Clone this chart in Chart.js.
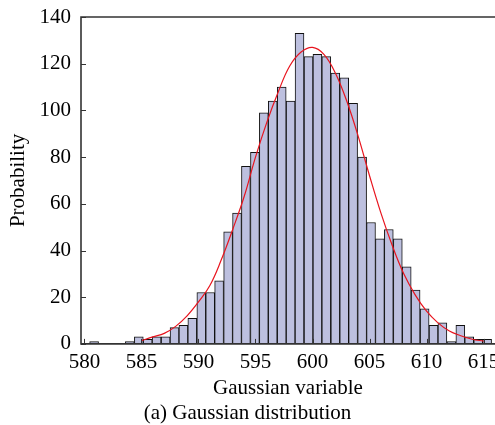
<!DOCTYPE html>
<html>
<head>
<meta charset="utf-8">
<script src="https://cdn.jsdelivr.net/npm/chart.js@4"></script>
<style>
  html, body { margin: 0; padding: 0; background: #fff; }
  #wrap { width: 495px; height: 425px; }
</style>
</head>
<body>
<div id="wrap"><canvas id="histChart"></canvas></div>
<script>
    'use strict';

    // histogram bins (centres) and counts
    var binCenters = [580.85, 581.63, 582.42, 583.20, 583.98, 584.77, 585.55, 586.33, 587.12, 587.90,
        588.68, 589.46, 590.25, 591.03, 591.81, 592.60, 593.38, 594.16, 594.95, 595.73,
        596.51, 597.30, 598.08, 598.86, 599.65, 600.43, 601.21, 602.00, 602.78, 603.56,
        604.35, 605.13, 605.91, 606.69, 607.48, 608.26, 609.04, 609.83, 610.61, 611.39,
        612.18, 612.96, 613.74, 614.53, 615.31];
    var binCounts = [1, 0, 0, 0, 1, 3, 2, 3, 3, 7,
        8, 11, 22, 22, 27, 48, 56, 76, 82, 99,
        104, 110, 104, 133, 123, 124, 123, 116, 114, 103,
        80, 52, 45, 49, 45, 33, 23, 15, 8, 9,
        1, 8, 3, 2, 2];

    // fitted curve
    var fitX = [585, 586, 587, 588, 589, 590, 591, 592, 593, 594,
        595, 596, 597, 598, 599, 600, 601, 602, 603, 604,
        605, 606, 607, 608, 609, 610, 611, 612, 613, 614, 615];
    var fitY = [1.4, 3, 4.5, 7.5, 12, 18, 25, 36, 49, 63,
        80, 95, 108, 119, 125, 127, 124, 116, 104, 89,
        72, 56, 42, 30, 21, 14, 9, 5.5, 3.5, 2, 1.2];

    var xTicks = [580, 585, 590, 595, 600, 605, 610, 615];
    var yTicks = [0, 20, 40, 60, 80, 100, 120, 140];

    var serif = "'Liberation Serif', 'Times New Roman', serif";

    var barData = binCenters.map(function (x, i) { return {x: x, y: binCounts[i]}; });
    var fitData = fitX.map(function (x, i) { return {x: x, y: fitY[i]}; });

    // axis lines (left, top, bottom) plus inward tick marks
    var framePlugin = {
        id: 'frame',
        afterDraw: function (chart) {
            var ctx = chart.ctx;
            var a = chart.chartArea;
            var xs = chart.scales.x, ys = chart.scales.y;
            ctx.save();
            ctx.strokeStyle = '#333';
            ctx.lineWidth = 1.6;
            ctx.beginPath();
            ctx.moveTo(chart.width, a.top);
            ctx.lineTo(a.left, a.top);
            ctx.lineTo(a.left, a.bottom);
            ctx.lineTo(chart.width, a.bottom);
            ctx.stroke();
            ctx.lineWidth = 1;
            ctx.beginPath();
            xTicks.forEach(function (v) {
                var px = Math.round(xs.getPixelForValue(v)) + 0.5;
                ctx.moveTo(px, a.bottom);
                ctx.lineTo(px, a.bottom - 5);
            });
            yTicks.forEach(function (v) {
                var py = Math.round(ys.getPixelForValue(v)) + 0.5;
                ctx.moveTo(a.left, py);
                ctx.lineTo(a.left + 5, py);
            });
            ctx.stroke();
            ctx.restore();
        }
    };

    var ctx = document.getElementById('histChart').getContext('2d');
    new Chart(ctx, {
        data: {
            datasets: [
                {
                    type: 'line',
                    label: 'Fit',
                    data: fitData,
                    borderColor: '#e8141e',
                    borderWidth: 1.2,
                    pointRadius: 0,
                    tension: 0.4,
                    fill: false,
                    order: 0
                },
                {
                    type: 'bar',
                    label: 'Histogram',
                    data: barData,
                    backgroundColor: '#bdc0df',
                    borderColor: '#111',
                    borderWidth: 1,
                    barPercentage: 1,
                    categoryPercentage: 1,
                    order: 1
                }
            ]
        },
        options: {
            responsive: true,
            maintainAspectRatio: false,
            animation: false,
            layout: {padding: {left: 0, right: 0, top: 17, bottom: 0}},
            plugins: {
                legend: {display: false},
                tooltip: {enabled: false},
                title: {
                    display: true,
                    position: 'bottom',
                    text: '(a) Gaussian distribution',
                    color: '#000',
                    font: {family: serif, size: 21, weight: 'normal', lineHeight: 1.1},
                    padding: {top: 2, bottom: 0}
                }
            },
            scales: {
                x: {
                    type: 'linear',
                    offset: false,
                    min: 579.7,
                    max: 616,
                    afterBuildTicks: function (scale) {
                        scale.ticks = xTicks.map(function (v) { return {value: v}; });
                    },
                    afterFit: function (scale) {
                        scale.height = 56;
                        scale.paddingLeft = 0;
                        scale.paddingRight = 0;
                    },
                    ticks: {
                        color: '#000',
                        font: {family: serif, size: 21},
                        padding: 6,
                        maxRotation: 0,
                        autoSkip: false
                    },
                    grid: {display: false, drawTicks: false},
                    border: {display: false},
                    title: {
                        display: true,
                        text: 'Gaussian variable',
                        color: '#000',
                        font: {family: serif, size: 21, lineHeight: 1.1},
                        padding: {top: 0, bottom: 0}
                    }
                },
                y: {
                    min: 0,
                    max: 140,
                    afterBuildTicks: function (scale) {
                        scale.ticks = yTicks.map(function (v) { return {value: v}; });
                    },
                    afterFit: function (scale) {
                        scale.width = 81;
                        scale.paddingTop = 0;
                        scale.paddingBottom = 0;
                    },
                    ticks: {
                        color: '#000',
                        font: {family: serif, size: 21},
                        padding: 10
                    },
                    grid: {display: false, drawTicks: false},
                    border: {display: false},
                    title: {
                        display: true,
                        text: 'Probability',
                        color: '#000',
                        font: {family: serif, size: 21},
                        padding: {top: 6, bottom: 0}
                    }
                }
            }
        },
        plugins: [framePlugin]
    });
</script>
</body>
</html>
